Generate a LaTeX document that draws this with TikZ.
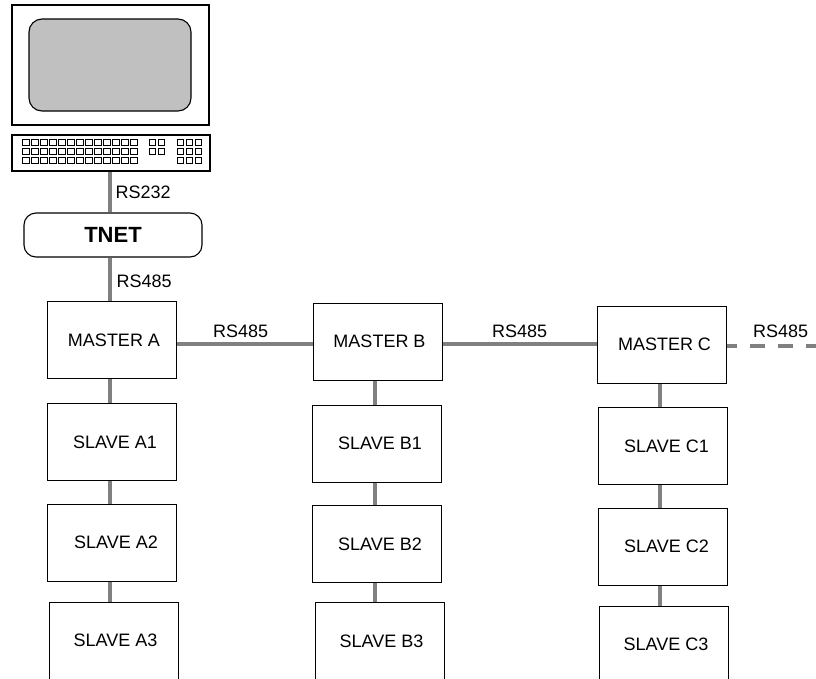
\documentclass[tikz,border=0pt]{standalone}
\usepackage{fontspec}
\setmainfont{Liberation Sans}
\usetikzlibrary{positioning}

\definecolor{cablegray}{RGB}{128,128,128}
\definecolor{screengray}{RGB}{192,192,192}

\tikzset{
    unitbox/.style={draw, line width=1pt, minimum width=129pt, minimum height=77pt,
        inner sep=0pt, font=\fontsize{18}{21}\selectfont},
    cable/.style={line width=3.2pt, cablegray},
    buslabel/.style={anchor=west, inner sep=0pt, text=black, font=\fontsize{18}{21}\selectfont},
    keycap/.style={line width=1pt, draw=black, fill=white}
}

\begin{document}
\begin{tikzpicture}[x=1pt, y=-1pt]
        \useasboundingbox (0,0) rectangle (816,678);

        % Draw monitor and screen
        \draw[line width=1.1pt] (12,5) rectangle (209,125);
        \draw[line width=1.1pt, fill=screengray, rounded corners=13pt] (29,19) rectangle (191,111);

        % Draw keyboard with its keys
        \node[draw, line width=1.1pt, minimum width=198pt, minimum height=36pt, inner sep=0pt] (kbd) at (111,153) {};
        \foreach \row in {139,148,157} {
            \foreach \col in {0,...,12}
                \draw[keycap] (22.7+9*\col,\row) rectangle ++(6.5,6.2);
            \foreach \col in {177.3,186.3,195.3}
                \draw[keycap] (\col,\row) rectangle ++(6.5,6.2);
        }
        \foreach \row in {139,148}
            \foreach \col in {149.3,158.3}
                \draw[keycap] (\col,\row) rectangle ++(6.5,6.2);

        % Define the converter
        \node[draw, line width=1.1pt, rounded corners=12pt, minimum width=178pt, minimum height=44pt,
            inner sep=0pt, font=\fontsize{22}{26}\selectfont\bfseries] (tnet) at (113,235) {TNET};

        % Define masters
        \node[unitbox] (mA) at (112,340) {\hspace{4pt}MASTER A};
        \node[unitbox] (mB) at (377.5,341.5) {\hspace{4pt}MASTER B};
        \node[unitbox] (mC) at (661.5,344.5) {\hspace{6pt}MASTER C};

        % Define slaves
        \node[unitbox] (sA1) at (112,442) {\hspace{6pt}SLAVE A1};
        \node[unitbox] (sA2) at (112,542.5) {\hspace{8pt}SLAVE A2};
        \node[unitbox] (sA3) at (113.5,640.5) {\hspace{4pt}SLAVE A3};
        \node[unitbox] (sB1) at (377,443.5) {\hspace{6pt}SLAVE B1};
        \node[unitbox] (sB2) at (377,544) {\hspace{6pt}SLAVE B2};
        \node[unitbox] (sB3) at (379.5,641) {\hspace{4pt}SLAVE B3};
        \node[unitbox] (sC1) at (662.5,446) {\hspace{8pt}SLAVE C1};
        \node[unitbox] (sC2) at (662.5,546.5) {\hspace{8pt}SLAVE C2};
        \node[unitbox] (sC3) at (664,644.5) {\hspace{4pt}SLAVE C3};

        % Draw PC side cables
        \coordinate (cpc) at (110,0);
        \draw[cable] (kbd.south -| cpc) -- (tnet.north -| cpc) node[midway, buslabel, xshift=4pt] {RS232};
        \draw[cable] (tnet.south -| cpc) -- (mA.north -| cpc) node[midway, buslabel, xshift=5pt, yshift=-2pt] {RS485};

        % Draw bus between masters
        \coordinate (bus) at (0,344);
        \coordinate (busC) at (0,346);
        \coordinate (busEnd) at (816,346);
        \draw[cable] (mA.east |- bus) -- (mB.west |- bus);
        \draw[cable] (mB.east |- bus) -- (mC.west |- bus);
        \draw[cable, dash pattern=on 15pt off 13pt, dash phase=5pt] (mC.east |- busC) -- (busEnd);
        \node[buslabel] (lAB) at (213,331) {RS485};
        \node[buslabel] (lBC) at (492,331) {RS485};
        \node[buslabel] (lC) at (753,331) {RS485};

        % Draw cables down to the slaves
        \foreach \col/\xc in {A/110, B/375, C/660} {
            \coordinate (c\col) at (\xc,0);
            \draw[cable] (m\col.south -| c\col) -- (s\col1.north -| c\col);
            \draw[cable] (s\col1.south -| c\col) -- (s\col2.north -| c\col);
            \draw[cable] (s\col2.south -| c\col) -- (s\col3.north -| c\col);
        }
    \end{tikzpicture}
\end{document}
